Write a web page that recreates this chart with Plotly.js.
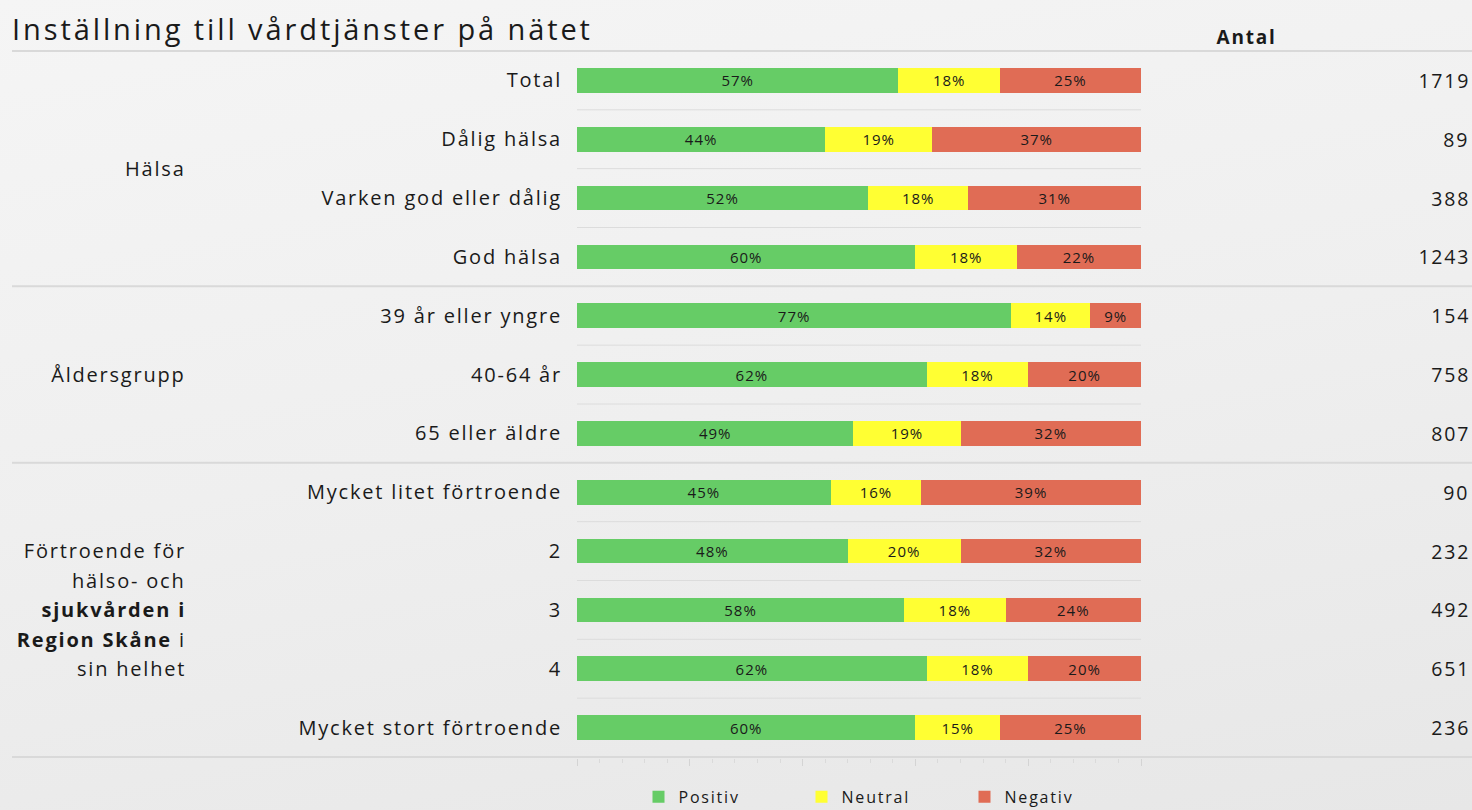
<!DOCTYPE html>
<html>
<head>
<meta charset="utf-8">
<script src="https://cdn.plot.ly/plotly-3.0.1.min.js"></script>
<style>
  html, body { margin: 0; padding: 0; width: 1472px; height: 810px; overflow: hidden;
    background: linear-gradient(170deg, #f5f5f5 0%, #efefef 50%, #e7e7e7 100%); }
  #chart { width: 1472px; height: 810px; }
  #chart text { letter-spacing: 1.8px; }
  #chart .gtitle { letter-spacing: 2.9px; }
  #chart .bartext, #chart .textpoint text { letter-spacing: 1px; }
</style>
</head>
<body>
<div id="chart"></div>
<script>
const categories = ["Total", "Dålig hälsa", "Varken god eller dålig", "God hälsa",
  "39 år eller yngre", "40-64 år", "65 eller äldre",
  "Mycket litet förtroende", "2", "3", "4", "Mycket stort förtroende"];
const positiv = [57, 44, 51.6, 60, 77, 62, 49, 45, 48, 58, 62, 60];
const neutral = [18, 19, 17.8, 18, 14, 18, 19, 16, 20, 18, 18, 15];
const negativ = [25, 37, 30.6, 22, 9, 20, 32, 39, 32, 24, 20, 25];
const antal = [1719, 89, 388, 1243, 154, 758, 807, 90, 232, 492, 651, 236];
const seriesNames = ["Positiv", "Neutral", "Negativ"];
const groupLabels = ["Hälsa", "Åldersgrupp",
  "Förtroende för<br>hälso- och<br><b>sjukvården i</b><br><b>Region Skåne</b> i<br>sin helhet"];
const groupStart = [0, 4, 7];
const groupEnd = [3, 6, 11];

const colors = ["#66CC66", "#FFFF33", "#E06C55"];
const font = "'Open Sans', 'Noto Sans', sans-serif";
const textColor = "#1a1a1a";

const traces = [positiv, neutral, negativ].map((vals, k) => ({
  type: "bar", orientation: "h", name: seriesNames[k],
  x: vals, y: categories,
  marker: { color: colors[k], line: { width: 0 } },
  texttemplate: "%{x:.0f}%", textposition: "inside", insidetextanchor: "middle",
  textangle: 0, constraintext: "none",
  textfont: { family: font, size: 15, color: textColor },
  hoverinfo: "skip"
}));

const xL = (12 - 577) / 564, xR = (1472 - 577) / 564;
const shapes = [];
const boundaries = new Set(groupEnd.slice(0, -1));
for (let i = 0; i < categories.length - 1; i++) {
  if (boundaries.has(i)) continue;
  shapes.push({ type: "line", xref: "x", yref: "y", x0: 0, x1: 100, y0: i + 0.5, y1: i + 0.5,
    line: { color: "#dcdcdc", width: 1 }, layer: "below" });
}
const fullLines = [-0.5, 11.5].concat(groupEnd.slice(0, -1).map(e => e + 0.5));
fullLines.forEach(yv => shapes.push({ type: "line", xref: "paper", yref: "y",
  x0: xL, x1: xR, y0: yv, y1: yv, line: { color: "#d9d9d9", width: 2 }, layer: "below" }));

const annotations = [];
const lineH = 29.5;
groupLabels.forEach((g, i) => {
  const lines = g.split("<br>");
  lines.forEach((ln, j) => annotations.push({
    text: ln, xref: "paper", yref: "y", x: (188 - 577) / 564, y: (groupStart[i] + groupEnd[i]) / 2,
    yshift: -((j - (lines.length - 1) / 2) * lineH),
    xanchor: "right", yanchor: "middle", align: "right", showarrow: false,
    font: { family: font, size: 20, color: textColor }
  }));
});
antal.forEach((n, i) => annotations.push({
  text: String(n), xref: "paper", yref: "y", x: (1469 - 577) / 564, y: i,
  xanchor: "right", yanchor: "middle", showarrow: false,
  font: { family: font, size: 19.5, color: textColor }
}));
annotations.push({ text: "<b>Antal</b>", xref: "paper", yref: "paper", x: (1246 - 577) / 564,
  y: 1, yanchor: "bottom", xanchor: "center", yshift: -2, showarrow: false,
  font: { family: font, size: 19, color: textColor } });

const layout = {
  width: 1472, height: 810,
  paper_bgcolor: "rgba(0,0,0,0)", plot_bgcolor: "rgba(0,0,0,0)",
  margin: { l: 577, r: 331, t: 50, b: 52, pad: 0, autoexpand: false },
  barmode: "stack", bargap: 0.58,
  title: { text: "Inställning till vårdtjänster på nätet", xref: "container", yref: "container",
    x: 12 / 1472, xanchor: "left", y: 1 - 30 / 810, yanchor: "middle",
    font: { family: font, size: 29, color: textColor } },
  xaxis: { range: [0, 100], showgrid: false, zeroline: false, showticklabels: false,
    ticks: "outside", dtick: 20, tick0: 0, ticklen: 7, tickcolor: "#d4d4d4", tickwidth: 1,
    minor: { dtick: 4, ticks: "outside", ticklen: 4, tickcolor: "#dadada", tickwidth: 1 },
    fixedrange: true, automargin: false },
  yaxis: { type: "category", autorange: "reversed", showgrid: false, zeroline: false,
    ticks: "outside", ticklen: 10, tickcolor: "rgba(0,0,0,0)", automargin: false,
    tickfont: { family: font, size: 20, color: textColor }, fixedrange: true },
  showlegend: true,
  legend: { orientation: "h", x: 0.5 + 24 / 564, xanchor: "center", y: -0.055, yanchor: "middle",
    traceorder: "normal",
    font: { family: font, size: 16, color: textColor }, entrywidth: 118, entrywidthmode: "pixels",
    itemwidth: 30, bgcolor: "rgba(0,0,0,0)" },
  shapes: shapes, annotations: annotations
};

Plotly.newPlot("chart", traces, layout, { displayModeBar: false, staticPlot: true });
</script>
</body>
</html>
